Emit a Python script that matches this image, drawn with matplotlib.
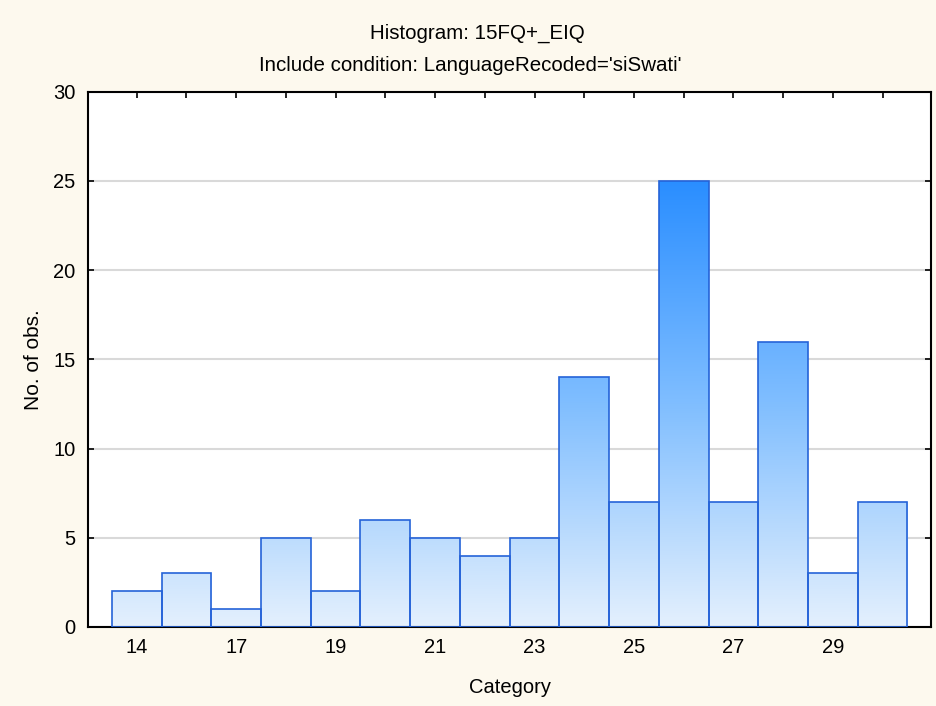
import numpy as np
import matplotlib.pyplot as plt
from matplotlib.colors import LinearSegmentedColormap

# Histogram counts per category
counts = [2, 3, 1, 5, 2, 6, 5, 4, 5, 14, 7, 25, 7, 16, 3, 7]
# Only every other category is labelled on the axis
tick_labels = ['14', '', '17', '', '19', '', '21', '', '23', '', '25', '', '27', '', '29', '']
yticks = [0, 5, 10, 15, 20, 25, 30]

plt.rcParams['font.family'] = ['Liberation Sans', 'DejaVu Sans']

bg = '#FDF9EE'
fig = plt.figure(figsize=(9.36, 7.06), dpi=100, facecolor=bg)
ax = fig.add_axes([0.094, 0.112, 0.901, 0.758])
ax.set_facecolor('white')

x = np.arange(len(counts))
bars = ax.bar(x, counts, width=1.0, color='none', edgecolor='#2563D8', linewidth=1.2, zorder=3)

# vertical gradient, light at the bottom, deep blue at the top of the scale
cmap = LinearSegmentedColormap.from_list('g', ['#E4F0FD', '#80BEFF', '#2A8EFF'])
grad = np.linspace(0, 1, 256).reshape(-1, 1)
for b in bars:
    h = b.get_height()
    im = ax.imshow(grad[:int(256 * h / 25) or 1], extent=[b.get_x(), b.get_x() + b.get_width(), 0, h],
                   origin='lower', aspect='auto', cmap=cmap, vmin=0, vmax=1, zorder=2)
    im.set_clip_path(b)

ax.set_xlim(-0.98, 15.98)
ax.set_ylim(0, 30)
ax.set_xticks(x)
ax.set_xticklabels(tick_labels)
ax.set_yticks(yticks)
ax.yaxis.grid(True, color='#D9D9D9', linewidth=1.5, zorder=0)
ax.tick_params(direction='in', length=4, width=1.2, top=True, right=True,
               labelsize=14.5, pad=8)
ax.tick_params(axis='y', pad=9)
for s in ax.spines.values():
    s.set_linewidth(1.5)

ax.set_xlabel('Category', fontsize=14.5, labelpad=15)
ax.set_ylabel('No. of obs.', fontsize=15, labelpad=7)
fig.text(0.51, 0.953, 'Histogram: 15FQ+_EIQ', ha='center', va='center', fontsize=14.8)
fig.text(0.502, 0.907, "Include condition: LanguageRecoded='siSwati'", ha='center', va='center', fontsize=14.8)

fig.savefig('out.png', dpi=100, facecolor=bg)
